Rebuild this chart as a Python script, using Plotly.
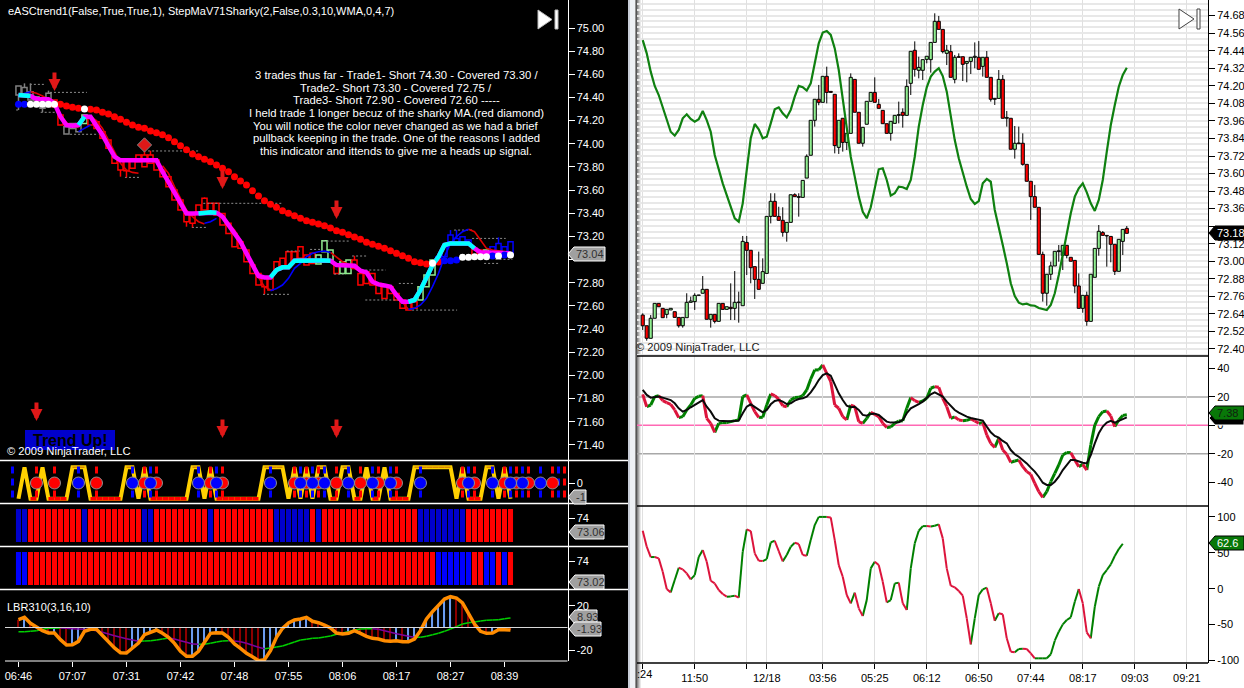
import plotly.graph_objects as go

W = 1244
H = 688

# ---- right hand chart (white) ----
r_open = [72.632,72.559,72.473,72.610,72.712,72.678,72.637,72.667,72.655,72.616,72.559,72.614,72.719,72.724,72.767,72.781,72.808,72.603,72.637,72.589,
          72.712,72.671,72.685,72.678,72.717,72.696,73.129,73.075,72.963,72.876,72.849,72.917,73.307,73.410,73.307,73.280,73.198,73.266,73.455,73.437,
          73.437,73.569,73.725,73.964,74.108,74.087,74.265,74.162,74.142,73.779,73.978,73.813,73.875,74.244,74.019,73.807,73.937,74.094,74.155,74.073,
          74.032,73.941,73.875,73.943,73.998,74.019,73.998,74.217,74.443,74.306,74.306,74.381,74.379,74.497,74.641,74.586,74.422,74.434,74.244,74.399,
          74.399,74.354,74.367,74.395,74.395,74.333,74.395,74.258,74.108,74.114,74.244,73.978,73.978,73.766,73.809,73.807,73.663,73.547,73.442,73.369,
          73.047,72.781,72.911,72.968,73.066,73.040,73.109,73.027,73.006,72.831,72.678,72.767,72.589,72.890,73.088,73.196,73.177,73.170,73.116,72.931,
          73.136,73.225]
r_close = [72.559,72.473,72.610,72.712,72.689,72.614,72.671,72.678,72.616,72.559,72.616,72.719,72.728,72.767,72.769,72.808,72.603,72.637,72.589,72.712,
           72.671,72.689,72.676,72.719,72.721,73.136,73.075,72.956,72.876,72.808,72.929,73.307,73.410,73.307,73.280,73.198,73.266,73.455,73.442,73.442,
           73.553,73.718,73.964,74.108,74.087,74.265,74.155,74.155,73.791,73.964,73.813,73.875,74.258,74.019,73.807,73.916,74.094,74.155,74.087,74.046,
           73.941,73.875,73.957,73.998,74.003,73.998,74.196,74.436,74.313,74.326,74.379,74.402,74.497,74.641,74.586,74.434,74.443,74.258,74.395,74.395,
           74.347,74.367,74.395,74.402,74.313,74.395,74.258,74.108,74.114,74.244,73.978,73.984,73.766,73.807,73.804,73.663,73.547,73.442,73.369,73.047,
           72.781,72.911,72.968,73.068,73.072,73.109,73.040,73.000,72.831,72.678,72.767,72.589,72.911,73.088,73.205,73.177,73.173,73.116,72.931,73.150,
           73.218,73.191]
r_high = [72.644,72.559,72.632,72.712,72.712,72.678,72.671,72.678,72.655,72.616,72.616,72.781,72.758,72.781,72.769,72.899,72.808,72.637,72.637,72.712,
          72.712,72.689,72.849,72.933,72.792,73.173,73.173,73.075,72.963,73.066,73.020,73.307,73.465,73.465,73.373,73.369,73.266,73.455,73.465,73.465,
          73.553,73.731,73.964,74.108,74.206,74.265,74.331,74.162,74.142,73.964,73.978,73.875,74.285,74.244,74.019,73.916,74.094,74.155,74.258,74.110,
          74.032,73.941,73.957,73.998,74.092,74.046,74.244,74.436,74.504,74.399,74.379,74.402,74.497,74.696,74.678,74.586,74.479,74.479,74.411,74.422,
          74.399,74.367,74.395,74.497,74.506,74.395,74.438,74.258,74.114,74.308,74.274,74.028,73.978,73.925,73.921,73.875,73.663,73.547,73.522,73.369,
          73.066,72.911,72.997,73.068,73.111,73.109,73.109,73.027,73.006,72.917,72.767,72.792,72.911,73.088,73.248,73.207,73.177,73.170,73.116,73.150,
          73.218,73.241]
r_low = [72.530,72.457,72.473,72.610,72.689,72.614,72.610,72.667,72.616,72.546,72.546,72.614,72.719,72.667,72.767,72.781,72.603,72.546,72.575,72.589,
         72.671,72.671,72.598,72.598,72.580,72.696,72.906,72.849,72.742,72.808,72.849,72.917,73.259,73.307,73.280,73.168,73.134,73.266,73.442,73.305,
         73.437,73.569,73.725,73.921,74.067,74.087,74.080,74.155,73.738,73.734,73.750,73.761,73.875,74.019,73.807,73.784,73.937,74.094,74.087,74.046,
         73.941,73.875,73.825,73.943,73.943,73.914,73.998,74.137,74.263,74.251,74.240,74.354,74.290,74.497,74.586,74.422,74.342,74.258,74.217,74.395,
         74.233,74.224,74.281,74.320,74.313,74.263,74.258,74.092,74.069,74.114,73.978,73.921,73.766,73.702,73.804,73.654,73.547,73.282,73.369,73.047,
         72.724,72.696,72.872,72.968,72.997,72.940,73.020,73.000,72.781,72.678,72.648,72.559,72.589,72.890,73.038,73.177,72.963,72.993,72.906,72.931,
         73.043,73.191]
r_envelope = [74.513,74.422,74.297,74.199,74.137,74.057,73.966,73.886,73.859,73.898,73.978,74.005,73.973,73.955,73.971,74.028,73.966,73.886,73.727,73.624,
              73.533,73.453,73.373,73.294,73.271,73.396,73.624,73.841,73.939,73.902,73.841,73.852,73.943,74.039,74.053,74.012,73.984,74.035,74.126,74.199,
              74.190,74.167,74.217,74.354,74.491,74.564,74.575,74.548,74.456,74.308,74.103,73.898,73.715,73.579,73.442,73.339,73.294,73.369,73.510,73.629,
              73.636,73.556,73.449,73.465,73.510,73.506,73.494,73.556,73.715,73.921,74.069,74.190,74.263,74.297,74.320,74.267,74.160,73.978,73.829,73.704,
              73.601,73.510,73.426,73.392,73.412,73.533,73.563,73.544,73.351,73.237,73.111,72.986,72.849,72.762,72.717,72.705,72.710,72.698,72.696,72.680,
              72.673,72.667,72.701,72.781,72.906,73.054,73.202,73.328,73.442,73.499,73.533,73.471,73.396,73.344,73.419,73.556,73.750,73.932,74.069,74.194,
              74.274,74.324]
r_fast = [21.8,13.1,14.3,20.2,20.9,17.4,16.0,14.8,10.8,5.4,6.1,10.8,14.3,19.0,20.4,20.9,4.9,1.4,-4.9,1.4,
          1.9,1.9,2.6,3.3,3.8,20.2,21.4,15.5,9.6,5.6,5.6,14.3,22.1,20.9,18.5,13.8,13.1,17.8,19.5,19.7,
          20.9,24.9,32.6,39.0,39.0,42.5,36.6,30.8,14.3,12.0,6.1,3.8,14.3,13.1,2.6,1.4,4.9,9.2,7.7,6.1,
          1.4,-1.6,-1.2,1.4,3.1,3.1,12.0,19.5,17.4,16.2,17.1,19.0,26.1,27.2,26.8,19.0,13.1,4.9,5.9,3.8,
          3.3,3.5,4.5,3.1,1.4,1.9,-6.8,-12.7,-15.5,-9.2,-17.4,-20.4,-26.1,-25.1,-24.4,-29.1,-32.6,-34.5,-40.8,-46.7,
          -50.7,-46.7,-39.7,-33.8,-27.9,-20.9,-19.2,-19.2,-24.4,-29.1,-27.5,-31.5,-13.8,0.2,6.1,9.6,10.1,6.6,-0.9,3.8,
          7.0,7.4]
r_slow = [24.9,21.4,19.5,19.7,20.2,19.5,18.5,17.8,15.5,12.0,9.6,10.8,12.7,14.3,16.0,17.8,13.1,9.6,4.9,3.3,
          3.1,2.8,2.8,3.1,3.3,8.5,13.1,14.8,13.1,10.8,9.2,10.8,14.8,17.1,17.8,16.7,15.0,15.5,17.4,18.5,
          19.0,20.2,23.2,27.2,31.9,35.4,36.6,35.0,28.4,22.5,17.8,13.8,12.7,13.1,10.8,7.3,6.8,8.0,8.2,7.3,
          4.9,2.6,1.9,2.1,2.1,3.8,8.5,12.0,13.8,15.0,16.7,19.0,21.8,23.2,21.4,20.2,16.7,13.8,10.8,8.9,
          7.3,6.1,5.2,4.5,3.5,3.3,-0.9,-4.9,-7.5,-8.7,-11.0,-12.7,-17.4,-20.4,-22.1,-24.4,-26.8,-29.8,-32.6,-36.2,
          -40.4,-42.0,-42.0,-39.7,-36.2,-31.5,-27.5,-24.4,-24.4,-25.6,-26.3,-26.8,-20.9,-12.7,-5.6,-0.9,1.9,3.1,1.9,3.1,
          4.5,5.6]
r_osc = [80.7,58.5,44.1,44.1,42.2,23.7,-0.5,-5.1,12.1,29.2,26.9,21.3,13.0,19.0,44.1,53.8,37.6,11.1,7.4,-1.9,
         -7.4,-11.1,-10.7,-9.7,-12.5,51.5,82.6,80.3,49.2,39.0,38.5,41.3,64.5,66.8,52.4,38.1,46.9,58.5,64.0,62.2,
         46.9,45.9,67.7,88.6,100,100,100,99.3,67.7,32.9,16.7,-8.8,-20.4,-5.6,-27.4,-38.1,-15.8,28.3,37.6,32.9,
         9.7,-19.0,-15.8,7.4,8.4,-20.4,-29.7,28.3,63.1,80.7,87.2,87.2,86.8,87.7,89.6,70.1,28.3,4.2,1.9,-3.2,
         -9.7,-41.3,-77.5,-41.3,-8.8,-0.9,1.4,-20.4,-44.5,-34.3,-35.7,-69.1,-87.7,-88.6,-84.0,-83.5,-84.0,-90.0,-97.0,-97.0,
         -97.0,-97.0,-91.4,-72.4,-59.9,-49.7,-43.6,-39.9,-18.1,-0.5,-20.4,-60.8,-69.1,-25.1,2.8,19.0,26.0,33.9,45.5,55.2,
         62.6]
r_tick_pos = [0, 13, 26, 31, 45, 58, 71, 84, 97, 110, 123, 136]
r_tick_text = ["", "11:50", "", "12/18", "03:56", "05:25", "06:12", "06:50", "07:44", "08:17", "09:03", "09:21"]

# ---- left hand chart (black) ----
l_top = [74.499,74.487,74.450,74.407,74.349,74.436,74.378,74.249,74.148,74.176,74.176,74.249,74.220,74.191,74.105,74.033,73.889,73.860,73.860,73.860,
         73.903,73.903,73.903,73.860,73.773,73.716,73.601,73.514,73.399,73.385,73.471,73.529,73.486,73.486,73.399,73.313,73.226,73.155,73.083,72.953,
         72.881,72.838,72.852,72.982,73.011,73.068,73.068,73.111,73.039,73.054,73.039,73.163,73.083,72.953,72.982,72.996,72.996,72.881,72.895,72.881,
         72.794,72.780,72.766,72.708,72.651,72.636,72.636,72.766,72.867,72.996,73.025,73.111,73.212,73.183,73.198,73.169,73.097,73.083,73.083,73.111,
         73.140,73.111,73.155]
l_bottom = [74.421,74.421,74.378,74.349,74.306,74.320,74.320,74.162,74.084,74.133,74.105,74.176,74.162,74.133,74.047,73.961,73.831,73.773,73.768,73.788,
            73.845,73.802,73.831,73.773,73.716,73.630,73.514,73.428,73.327,73.313,73.393,73.428,73.399,73.385,73.298,73.226,73.111,73.097,72.982,72.881,
            72.780,72.766,72.737,72.910,72.939,72.939,72.982,73.011,72.953,72.967,72.961,73.068,72.996,72.881,72.881,72.881,72.924,72.780,72.794,72.780,
            72.708,72.665,72.708,72.651,72.579,72.564,72.579,72.651,72.766,72.867,72.967,73.025,73.155,73.140,73.140,73.126,73.039,73.025,73.025,73.025,
            73.039,73.039,73.039]
l_wick_high = {1: 74.522, 2: 74.522, 5: 74.459, 21: 73.975, 22: 73.940, 31: 73.537, 72: 73.255, 73: 73.255, 80: 73.192, 56: 73.033}
l_wick_low = {0: 74.292, 4: 74.272, 17: 73.716, 18: 73.710, 28: 73.284, 29: 73.278, 41: 72.702}
l_gray = [0, 1, 2, 3, 4, 5, 8, 9, 10]
l_green = [11, 50, 51, 52, 54, 55, 67, 68, 69, 78]
l_blue = [70, 71, 72, 73, 74, 75, 79, 80, 81, 82]

l_dots = [74.341,74.341,74.341,74.341,74.341,74.341,74.341,74.341,74.326,74.315,74.307,74.301,74.298,74.292,74.272,74.257,74.234,74.212,74.186,74.162,
          74.142,74.134,74.111,74.096,74.079,74.053,74.018,73.984,73.949,73.912,73.889,73.866,73.845,73.817,73.788,73.759,73.716,73.679,73.644,73.595,
          73.549,73.509,73.478,73.452,73.422,73.400,73.379,73.357,73.336,73.322,73.307,73.293,73.273,73.250,73.236,73.215,73.195,73.175,73.149,73.132,
          73.115,73.098,73.077,73.054,73.034,73.011,72.982,72.973,72.962,72.968,72.979,72.991,72.991,72.997,73.020,73.020,73.025,73.025,73.025,73.031,
          73.031,73.040,73.040]
dots_blue = [0, 1, 71, 72, 73, 79, 81]
dots_white = [2, 3, 4, 5, 6, 11, 69, 74, 75, 76, 77, 78, 80, 82]

l_step = [74.421,74.421,74.413,74.387,74.384,74.384,74.349,74.234,74.162,74.156,74.162,74.234,74.234,74.162,74.076,73.981,73.889,73.857,73.857,73.857,
          73.857,73.857,73.857,73.857,73.759,73.673,73.572,73.486,73.399,73.399,73.399,73.405,73.408,73.405,73.371,73.298,73.212,73.155,73.054,72.953,
          72.858,72.846,72.846,72.910,72.933,72.933,72.990,72.993,72.993,72.993,72.993,72.993,72.990,72.953,72.953,72.953,72.947,72.904,72.889,72.809,
          72.786,72.777,72.766,72.694,72.636,72.636,72.651,72.737,72.843,72.953,73.025,73.126,73.140,73.140,73.140,73.140,73.097,73.062,73.062,73.062,
          73.062,73.062,73.054]
step_up_runs = [(0, 2), (10, 11), (30, 33), (42, 52), (65, 76)]

# thin moving average, split in its falling (red) and rising (blue) stretches
ma_red = {2:74.450,3:74.436,4:74.413,5:74.384,6:74.326,7:74.249,8:74.182,9:74.154,10:74.142,None:None,
          12:74.234,13:74.200,14:74.133,15:74.033,16:73.932,17:73.831,18:73.773,19:73.753,20:73.745}
ma_red2 = {24:73.811,25:73.745,26:73.630,27:73.529,28:73.428,29:73.371,30:73.327,31:73.307}
ma_red3 = {34:73.356,35:73.313,36:73.255,37:73.169,38:73.054,39:72.953,40:72.846,41:72.766,42:72.737}
ma_red4 = {52:73.062,53:73.025,54:72.982,55:72.961,56:72.924,57:72.895,58:72.881,59:72.823,60:72.794,61:72.780,62:72.766,63:72.694,64:72.636,65:72.570}
ma_red5 = {75:73.261,76:73.241,77:73.169,78:73.097,79:73.083,80:73.074,81:73.068,82:73.062}
ma_blue = {0:74.421,1:74.436,2:74.450}
ma_blue2 = {10:74.105,11:74.133,12:74.162}
ma_blue3 = {31:73.313,32:73.327,33:73.356}
ma_blue4 = {42:72.731,43:72.751,44:72.780,45:72.838,46:72.924,47:72.967,48:73.025,49:73.054,50:73.068,51:73.074,52:73.062}
ma_blue5 = {65:72.570,66:72.579,67:72.608,68:72.665,69:72.766,70:72.881,71:73.025,72:73.140,73:73.198,74:73.241,75:73.261}

pivot_start = [1.9,5.25,-0.4,3.7,8.6,21.6,17.75,30.8,28.9,40.75,44.7,48.6,50.7,55.6,57.8,52.6,63.4,57.8,65.6,72.6,75.6,77.6,79.5]
pivot_end = [4.4,11.4,0.25,6.1,13.3,30.25,20.25,44.1,31.4,45.25,46.9,50.5,55.2,58.2,61.2,54.2,65.9,63.4,73.1,75.6,81.2,80.0,82.3]
pivot_level = [74.513,74.444,74.292,74.272,74.082,73.938,73.710,73.486,73.278,72.700,73.074,73.088,73.160,73.031,72.910,72.875,72.794,72.651,72.564,73.255,73.183,72.967,73.002]

arrow_bar = [6, 34, 53, 3, 34, 53]
arrow_price = [74.456, 73.610, 73.351, 71.606, 71.459, 71.459]
diamond_bar = [21]
diamond_price = [73.990]

trend = [-1,1,-1,-1,1,-1,-1,-1,-1,1,1,1,-1,-1,-1,-1,-1,-1,1,1,-1,1,-1,-1,-1,-1,-1,-1,-1,1,1,-1,1,-1,-1,-1,-1,-1,-1,-1,-1,
         1,1,1,1,-1,1,-1,1,-1,1,1,-1,-1,1,1,-1,-1,1,-1,-1,1,-1,-1,-1,-1,1,1,1,1,1,1,1,-1,1,-1,-1,-1,1,1,-1,1,-1]
signal_red = [3,6,13,21,23,32,34,46,48,50,53,57,60,63,74,76,81,83,85,89]
signal_blue = [10,19,22,30,33,42,47,49,51,55,59,62,67,75,79,82,84,87]
stem_red = signal_red + [91]
stem_blue = signal_blue + [-1, 90]

band_a = "bb" + "r" * 9 + "b" + "r" * 9 + "bb" + "r" * 9 + "b" + "r" * 10 + "b" * 6 + "r" + "b" + "r" * 16 + "b" * 8 + "r" * 8
band_b = "bb" + "r" * 68 + "b" * 6 + "rr" + "bb" + "r" + "b" + "r"

lbr_fast = [7.5,9.6,4.2,1.2,-2.4,-4.5,-4.5,-10.5,-15.3,-15.0,-12.0,-3.0,-1.2,-1.2,-6.9,-12.0,-18.0,-22.2,-22.5,-18.0,
            -13.5,-6.0,-3.9,-1.8,-4.8,-8.4,-13.8,-21.0,-25.5,-25.5,-21.0,-12.9,-4.8,-4.2,-4.5,-8.4,-14.4,-18.3,-22.8,-25.8,
            -29.4,-28.5,-20.4,-8.4,-0.3,4.5,7.2,8.1,9.6,6.0,4.8,2.7,0,-4.5,-5.4,-4.8,-2.4,-4.8,-7.5,-9.3,
            -9.9,-11.4,-12.0,-11.4,-12.3,-12.3,-9.9,-2.4,8.1,14.7,20.1,26.1,28.2,27.0,22.5,12.6,3.6,-3.0,-4.8,-4.5,
            -1.5,-1.5,-1.9]
lbr_slow = [-3.3,-3.3,-3.0,-2.4,-1.2,-0.3,-0.3,0,-0.3,-0.6,-0.9,-1.2,-1.5,-2.4,-3.9,-5.4,-6.9,-8.4,-9.6,-10.8,
            -12.0,-11.7,-11.4,-10.8,-9.9,-9.0,-9.9,-11.4,-12.9,-14.4,-14.7,-14.7,-13.8,-12.6,-11.7,-11.4,-11.7,-12.3,-13.8,-15.6,
            -17.4,-18.6,-18.0,-17.1,-16.2,-14.4,-12.6,-10.8,-10.2,-9.3,-9.0,-8.1,-7.2,-5.7,-4.5,-3.3,-1.8,-0.9,-0.6,-0.6,
            -1.2,-2.4,-3.9,-5.1,-6.3,-7.5,-8.4,-8.4,-7.5,-6.0,-4.8,-3.0,-0.9,1.2,3.6,4.8,5.4,6.3,6.9,7.2,
            7.5,8.4,9.0]
l_tick_pos = [0, 9, 18, 27, 36, 45, 54, 63, 72, 81]
l_tick_text = ["06:46", "07:07", "07:31", "07:42", "07:48", "07:55", "08:06", "08:17", "08:27", "08:39"]

notes = ["3 trades thus far - Trade1- Short 74.30 - Covered 73.30 /",
         "Trade2- Short 73.30 - Covered 72.75 /",
         "Trade3- Short 72.90 - Covered 72.60 -----",
         "I held trade 1 longer becuz of the sharky MA.(red diamond)",
         "You will notice the color never changed as we had a brief",
         "pullback keeping in the trade. One of the reasons I added",
         "this indicator and ittends to give me a heads up signal."]
note_rows = [75, 88, 100, 113, 126, 138, 151]

FONT = "Liberation Sans"
TXT = 11


def px(x):
    return x / W


def py(y):
    return 1 - y / H


def split_slope(vals):
    # green/red style colouring: one path for rising pieces, one for falling
    up_x, up_y, dn_x, dn_y = [], [], [], []
    for i in range(1, len(vals)):
        tx, ty = (up_x, up_y) if vals[i] >= vals[i - 1] else (dn_x, dn_y)
        tx += [i - 1, i, None]
        ty += [vals[i - 1], vals[i], None]
    return up_x, up_y, dn_x, dn_y


def join_runs(runs):
    xs, ys = [], []
    for run in runs:
        for k, v in run.items():
            if k is None:
                xs.append(None)
                ys.append(None)
            else:
                xs.append(k)
                ys.append(v)
        xs.append(None)
        ys.append(None)
    return xs, ys


def line(x, y, color, width, xa="x", ya="y", dash=None):
    fig.add_trace(go.Scatter(x=x, y=y, mode="lines", xaxis=xa, yaxis=ya, hoverinfo="skip",
                             line=dict(color=color, width=width, dash=dash)))


def candles(top, bottom, high, low, fills, edges, width, xa, ya, edge_width=1):
    # bars for the bodies, wick pieces only outside the body
    n = len(top)
    fig.add_trace(go.Bar(x=list(range(n)), y=[top[i] - bottom[i] for i in range(n)], base=bottom, width=width,
                         xaxis=xa, yaxis=ya, hoverinfo="skip",
                         marker=dict(color=fills, line=dict(color=edges, width=edge_width))))
    for col in set(edges):
        xs, ys = [], []
        for i in range(n):
            if edges[i] != col:
                continue
            xs += [i, i, None, i, i, None]
            ys += [top[i], high[i], None, bottom[i], low[i], None]
        line(xs, ys, col, edge_width, xa=xa, ya=ya)


def rect(x0, x1, y0, y1, color, layer="below"):
    fig.add_shape(type="rect", xref="paper", yref="paper", x0=px(x0), x1=px(x1), y0=py(y0), y1=py(y1),
                  fillcolor=color, line_width=0, layer=layer)


def hline_px(x0, x1, y, color, width=1):
    fig.add_shape(type="line", xref="paper", yref="paper", x0=px(x0), x1=px(x1), y0=py(y), y1=py(y),
                  line=dict(color=color, width=width), layer="above")


def label(x, y, text, color="white", size=TXT, anchor="left", bold=False):
    fig.add_annotation(xref="paper", yref="paper", x=px(x), y=py(y), text=text, showarrow=False,
                       xanchor=anchor, yanchor="middle", align=anchor,
                       font=dict(family=FONT, size=size, color=color, weight="bold" if bold else "normal"))


def tag(x0, x1, y, fill, text, color, edge="white"):
    h = 7
    pts = [(x0, y), (x0 + 6, y - h), (x1, y - h), (x1, y + h), (x0 + 6, y + h)]
    path = "M " + " L ".join("%f,%f" % (px(a), py(b)) for a, b in pts) + " Z"
    fig.add_shape(type="path", xref="paper", yref="paper", path=path, fillcolor=fill,
                  line=dict(color=edge, width=1), layer="above")
    if text:
        label(x0 + 6, y, text, color=color, size=11)


def play(x0, x1, y0, y1, fill, edge):
    mid = (y0 + y1) / 2
    tri = [(x0, y0), (x1 - 6, mid), (x0, y1)]
    path = "M " + " L ".join("%f,%f" % (px(a), py(b)) for a, b in tri) + " Z"
    fig.add_shape(type="path", xref="paper", yref="paper", path=path, fillcolor=fill,
                  line=dict(color=edge, width=1), layer="above")
    fig.add_shape(type="rect", xref="paper", yref="paper", x0=px(x1 - 3), x1=px(x1), y0=py(y0), y1=py(y1),
                  fillcolor=fill, line=dict(color=edge, width=1), layer="above")


fig = go.Figure()

# --- backgrounds
rect(0, 628, 0, H, "black")
rect(628, 630, 0, H, "#C9CED8")
rect(630, 635, 0, H, "#EEF1F5")
rect(635, 636, 0, H, "#909090")
rect(636, 637, 0, H, "#555555")
rect(637, 638, 0, H, "#888888")
rect(638, 639, 0, H, "#AAAAAA")
rect(639, 640, 0, H, "#CCCCCC")
rect(640, 641, 0, H, "#E8E8E8")

# --- left main panel
rect(25, 115, 430, 450, "#0000CC")
xs = []
ys = []
for a, b, lv in zip(pivot_start, pivot_end, pivot_level):
    xs += [a, b, None]
    ys += [lv, lv, None]
line(xs, ys, "#8C8C8C", 1, dash="2px,2px")

l_edges = []
for i in range(len(l_top)):
    if i in l_gray:
        l_edges.append("#808080")
    elif i in l_green:
        l_edges.append("#90EE90")
    elif i in l_blue:
        l_edges.append("#0000FF")
    else:
        l_edges.append("#FF0000")
l_high = [l_wick_high.get(i, l_top[i]) for i in range(len(l_top))]
l_low = [l_wick_low.get(i, l_bottom[i]) for i in range(len(l_top))]
candles(l_top, l_bottom, l_high, l_low, "black", l_edges, 0.85, "x", "y", edge_width=1.5)

red_idx = [i for i in range(len(l_dots)) if i not in dots_blue and i not in dots_white and i <= 70]
fig.add_trace(go.Scatter(x=red_idx, y=[l_dots[i] for i in red_idx], mode="markers", hoverinfo="skip",
                         marker=dict(color="#FF0000", size=7)))

xs, ys = join_runs([ma_red, ma_red2, ma_red3, ma_red4, ma_red5])
line(xs, ys, "#E00000", 1.6)
xs, ys = join_runs([ma_blue, ma_blue2, ma_blue3, ma_blue4, ma_blue5])
line(xs, ys, "#0000FF", 1.6)

line(list(range(len(l_step))), l_step, "#FF00FF", 4.5)
for a, b in step_up_runs:
    line(list(range(a, b + 1)), l_step[a:b + 1], "#00FFFF", 4.5)

fig.add_trace(go.Scatter(x=dots_blue, y=[l_dots[i] for i in dots_blue], mode="markers", hoverinfo="skip",
                         marker=dict(color="#0000FF", size=7)))
fig.add_trace(go.Scatter(x=dots_white, y=[l_dots[i] for i in dots_white], mode="markers", hoverinfo="skip",
                         marker=dict(color="white", size=7)))
fig.add_trace(go.Scatter(x=diamond_bar, y=diamond_price, mode="markers", hoverinfo="skip",
                         marker=dict(color="#E01818", size=11, symbol="diamond", line=dict(color="#808080", width=1))))
for a, p in zip(arrow_bar, arrow_price):
    fig.add_annotation(x=a, y=p, xref="x", yref="y", ax=0, ay=-20, showarrow=True, arrowhead=2,
                       arrowsize=0.6, arrowwidth=4, arrowcolor="#E01818", text="")

# --- trend panel
line(list(range(len(trend))), trend, "#FFD000", 4, ya="y2")
xs, ys, xo, yo = [], [], [], []
for i in range(1, len(trend)):
    if trend[i] == -1 and trend[i - 1] == -1:
        xs += [i - 1, i, None]
        ys += [-1, -1, None]
    if trend[i] == 1 and trend[i - 1] == 1:
        xo += [i - 1, i, None]
        yo += [1, 1, None]
line(xs, ys, "#FF0000", 3.5, ya="y2")
line(xo, yo, "#D88A00", 1.5, ya="y2")
for stems, col in ((stem_red, "#FF0000"), (stem_blue, "#0000FF")):
    xs, ys = [], []
    for s in stems:
        xs += [s, s, None]
        ys += [1.05, -1.05, None]
    line(xs, ys, col, 3, ya="y2", dash="7px,5px")
for sig, col in ((signal_red, "#FF0000"), (signal_blue, "#0000FF")):
    fig.add_trace(go.Scatter(x=sig, y=[0] * len(sig), mode="markers", yaxis="y2", hoverinfo="skip",
                             marker=dict(color=col, size=12, line=dict(color="#909090", width=1))))

# --- colour bands
for band, ya in ((band_a, "y3"), (band_b, "y4")):
    fig.add_trace(go.Bar(x=list(range(len(band))), y=[2.21] * len(band), base=72.39, yaxis=ya, width=0.84,
                         hoverinfo="skip",
                         marker=dict(color=["#FF0000" if c == "r" else "#0000FF" if ya == "y4" else "#0000CC" for c in band],
                                     line_width=0)))

# --- LBR panel
fig.add_trace(go.Bar(x=list(range(len(lbr_fast))), y=lbr_fast, yaxis="y5", width=0.18, hoverinfo="skip",
                     marker=dict(color=["#6C9CF0" if i > 0 and lbr_fast[i] >= lbr_fast[i - 1] else "#8B0000"
                                        for i in range(len(lbr_fast))], line_width=0)))
ux, uy, dx, dy = split_slope(lbr_slow)
line(ux, uy, "#00D000", 1.5, ya="y5")
line(dx, dy, "#8000A0", 1.5, ya="y5")
line(list(range(len(lbr_fast))), lbr_fast, "#FF8C00", 3.5, ya="y5")

# --- right main panel
r_top = [max(o, c) for o, c in zip(r_open, r_close)]
r_bottom = [min(o, c) for o, c in zip(r_open, r_close)]
r_fills = ["#90EE90" if c >= o else "#FF0000" for o, c in zip(r_open, r_close)]
candles(r_top, r_bottom, r_high, r_low, r_fills, ["black"] * len(r_open), 0.78, "x2", "y6")
line(list(range(len(r_envelope))), r_envelope, "#0F8010", 2.2, xa="x2", ya="y6")

# --- right oscillators
for lv, col in ((20, "#A8A8A8"), (-20, "#A8A8A8"), (0, "#FF69B4")):
    fig.add_shape(type="line", xref="x2 domain", yref="y7", x0=0, x1=1, y0=lv, y1=lv,
                  line=dict(color=col, width=1.5), layer="below")
ux, uy, dx, dy = split_slope(r_fast)
line(ux, uy, "#008000", 3, xa="x2", ya="y7")
line(dx, dy, "#DC143C", 3, xa="x2", ya="y7")
line(list(range(len(r_slow))), r_slow, "#0A0A0A", 2, xa="x2", ya="y7")
ux, uy, dx, dy = split_slope(r_osc)
line(ux, uy, "#008000", 2, xa="x2", ya="y8")
line(dx, dy, "#DC143C", 2, xa="x2", ya="y8")

# --- separators
for y in (460.5, 503.5, 546.5, 589.5):
    hline_px(0, 628, y, "white", 1.5)
hline_px(5, 567.5, 661, "white", 1)
hline_px(5, 567.5, 627.5, "#D8D8D8", 1)
hline_px(637, 1208, 356, "black", 1.5)
hline_px(637, 1208, 506, "black", 1.5)
hline_px(637, 1208, 663, "black", 1.5)

# --- texts
label(6, 11, "eASCtrend1(False,True,True,1), StepMaV71Sharky(2,False,0.3,10,WMA,0,4,7)")
for t, y in zip(notes, note_rows):
    label(396, y, t, anchor="center", size=11.3)
label(70, 440, "Trend Up!", color="#000000", size=16, anchor="center", bold=True)
label(5, 451, "© 2009 NinjaTrader, LLC", size=11.2)
label(634, 347, "© 2009 NinjaTrader, LLC", color="#202020", size=11.2)
label(5, 607, "LBR310(3,16,10)")
label(635, 674, ":24", color="#000000")

play(538, 558, 10, 29, "white", "#BBBBBB")
play(1179, 1200, 9, 29, "white", "#404040")

tag(568, 605, 254, "#A0A0A0", "73.04", "#303030")
tag(568, 586, 497, "#A0A0A0", "-1", "#303030")
tag(569, 604, 532, "#A0A0A0", "73.06", "#303030")
tag(569, 604, 582, "#A0A0A0", "73.02", "#303030")
tag(569, 597, 617, "#A0A0A0", "8.93", "#303030")
tag(569, 601, 629, "#A0A0A0", "-1.93", "#303030")
tag(1209, 1244, 233, "#000000", "73.18", "white", edge="#000000")
tag(1209, 1244, 418, "#000000", "", "white", edge="white")
tag(1209, 1244, 413, "#087808", "7.38", "#102010", edge="#000000")
tag(1209, 1244, 543, "#087808", "62.6", "white", edge="#000000")


def yaxis(top, bottom, hi, lo, vals, text, anchor, color, **kw):
    d = dict(domain=[py(bottom), py(top)], range=[lo, hi], anchor=anchor, side="right", showgrid=False,
             zeroline=False, showline=True, linecolor=color, linewidth=1, ticks="outside", ticklen=6,
             automargin=False, tickcolor=color, tickvals=vals, ticktext=text,
             tickfont=dict(family=FONT, size=TXT, color=color))
    d.update(kw)
    return d


main_vals = [71.40 + 0.2 * k for k in range(19)]
main_text = ["" if abs(v - 73.0) < 0.01 else "%.2f" % v for v in main_vals]
px_vals = [72.40 + 0.12 * k for k in range(20)]
px_text = ["" if abs(v - 73.24) < 0.01 else "%.2f" % v for v in px_vals]

fig.update_layout(
    width=W, height=H, margin=dict(l=0, r=0, t=0, b=0), autosize=False, showlegend=False,
    paper_bgcolor="white", plot_bgcolor="rgba(0,0,0,0)", barmode="overlay",
    xaxis=dict(domain=[0, px(567.5)], range=[-3.08, 91.5], anchor="y5", showgrid=False, zeroline=False,
               automargin=False, tickvals=l_tick_pos, ticktext=l_tick_text, ticks="outside", ticklen=5,
               tickcolor="white", tickfont=dict(family=FONT, size=TXT, color="white"), showline=False),
    xaxis2=dict(domain=[px(637), px(1208)], range=[-1.43, 141.3], anchor="y8", showgrid=True,
                gridcolor="#E0E0E0", gridwidth=1, zeroline=False, automargin=False,
                tickvals=r_tick_pos, ticktext=r_tick_text, ticks="outside", ticklen=5, tickcolor="black",
                tickfont=dict(family=FONT, size=TXT, color="black"), showline=False),
    yaxis=yaxis(0, 460, 75.2418, 71.2694, main_vals, main_text, "x", "white"),
    yaxis2=yaxis(461, 503, 1.397, -1.27, [0], ["0"], "x", "white"),
    yaxis3=yaxis(504, 546, 74.94, 72.12, [74], ["74"], "x", "white"),
    yaxis4=yaxis(547, 589, 74.94, 72.12, [74], ["74"], "x", "white"),
    yaxis5=yaxis(590, 661, 34.2, -29.7, [20, -20], ["20", "-20"], "x", "white"),
    yaxis6=yaxis(0, 356, 74.787, 72.352, px_vals, px_text, "x2", "black",
                 showgrid=True, gridcolor="#E8E8E8", gridwidth=1.5,
                 minor=dict(dtick=0.04, tick0=72.40, showgrid=True, gridcolor="#E8E8E8", gridwidth=1.5, ticks="")),
    yaxis7=yaxis(356, 506, 48.8, -56.8, [40, 20, 0, -20, -40], ["40", "20", "0", "-20", "-40"], "x2", "black"),
    yaxis8=yaxis(506, 663, 115.2, -103.5, [100, 50, 0, -50, -100], ["100", "50", "0", "-50", "-100"], "x2", "black"),
)

fig.write_html("out.html", config=dict(displayModeBar=False, responsive=False),
               post_script="document.body.style.margin='0';document.body.style.overflow='hidden';")
